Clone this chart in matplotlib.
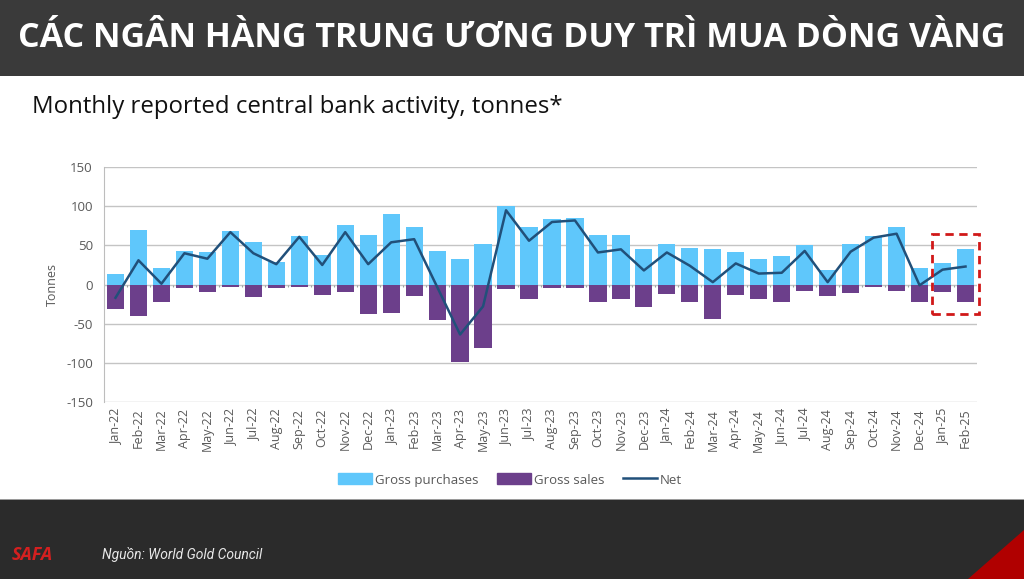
import numpy as np
import matplotlib
matplotlib.use("Agg")
import matplotlib.pyplot as plt
from matplotlib.patches import Rectangle, Polygon
from matplotlib.lines import Line2D

plt.rcParams["axes.unicode_minus"] = False

months = ["Jan-22","Feb-22","Mar-22","Apr-22","May-22","Jun-22","Jul-22","Aug-22","Sep-22","Oct-22","Nov-22","Dec-22",
          "Jan-23","Feb-23","Mar-23","Apr-23","May-23","Jun-23","Jul-23","Aug-23","Sep-23","Oct-23","Nov-23","Dec-23",
          "Jan-24","Feb-24","Mar-24","Apr-24","May-24","Jun-24","Jul-24","Aug-24","Sep-24","Oct-24","Nov-24","Dec-24",
          "Jan-25","Feb-25"]
gross_purchases = [14, 70, 21, 43, 41, 69, 55, 29, 62, 38, 76, 63,
                   90, 74, 43, 33, 52, 101, 74, 84, 85, 63, 63, 45,
                   52, 47, 46, 41, 32, 37, 50, 18, 52, 62, 74, 21,
                   28, 45]
gross_sales = [-31, -40, -22, -4, -9, -3, -16, -5, -3, -14, -9, -38,
               -37, -15, -46, -99, -81, -6, -19, -5, -4, -23, -18, -29,
               -12, -22, -44, -14, -19, -23, -8, -15, -11, -3, -8, -23,
               -10, -22]
net = [-17, 31, 1, 40, 33, 67, 40, 26, 61, 25, 67, 26,
       54, 58, -3, -64, -28, 95, 56, 80, 82, 41, 45, 18,
       41, 24, 3, 27, 14, 15, 43, 3, 42, 60, 65, -1,
       19, 23]
y_ticks = [150, 100, 50, 0, -50, -100, -150]

C_BUY = "#5FC7FB"
C_SELL = "#6C3F8B"
C_NET = "#21507A"
C_TXT = "#595959"
FONT = "Open Sans"

fig = plt.figure(figsize=(10.24, 5.79), dpi=100)
fig.patch.set_facecolor("white")

# header band
fig.patches.append(Rectangle((0, 1 - 76/579), 1, 76/579, transform=fig.transFigure,
                             facecolor="#3A3A3A", edgecolor="none", zorder=0))
fig.text(0.5, 1 - 38/579, "CÁC NGÂN HÀNG TRUNG ƯƠNG DUY TRÌ MUA DÒNG VÀNG",
         ha="center", va="center", color="white", fontsize=24.5, fontweight="bold",
         family=[FONT, "DejaVu Sans"])
# footer band
fig.patches.append(Rectangle((0, 0), 1, 79/579, transform=fig.transFigure,
                             facecolor="#2B2B2B", edgecolor="none", zorder=0))
fig.patches.append(Rectangle((0, 79/579), 1, 1.5/579, transform=fig.transFigure,
                             facecolor="#9A9A9A", edgecolor="none", zorder=0))
fig.patches.append(Polygon([(968/1024, 0), (1, 0), (1, 49/579)], closed=True,
                           transform=fig.transFigure, facecolor="#B00000",
                           edgecolor="none", zorder=1))
fig.text(12/1024, 1 - 555/579, "SAFA", ha="left", va="center", color="#D42020",
         fontsize=13, fontweight="bold", fontstyle="italic", family=[FONT, "DejaVu Sans"])
fig.text(102/1024, 1 - 555/579, "Nguồn: World Gold Council", ha="left", va="center",
         color="#E8E8E8", fontsize=10, fontstyle="italic", family=["Roboto", "DejaVu Sans"])

fig.text(32/1024, 1 - 107/579, "Monthly reported central bank activity, tonnes*",
         ha="left", va="center", color="#111111", fontsize=17.3, family=[FONT, "DejaVu Sans"])

ax = fig.add_axes([104/1024, 1 - 401.7/579, 873/1024, (401.7 - 167.3)/579])
x = np.arange(len(months))
ax.bar(x, gross_purchases, width=0.75, color=C_BUY, zorder=2, label="Gross purchases")
ax.bar(x, gross_sales, width=0.75, color=C_SELL, zorder=2, label="Gross sales")
ax.plot(x, net, color=C_NET, lw=1.8, zorder=3, label="Net")

ax.set_xlim(-0.5, len(months) - 0.5)
ax.set_ylim(-150, 150)
ax.set_yticks(y_ticks)
ax.yaxis.grid(True, color="#C4C4C4", lw=1.0, zorder=0)
ax.set_axisbelow(True)
for s in ["top", "right", "bottom"]:
    ax.spines[s].set_visible(False)
ax.spines["left"].set_color("#BDBDBD")
ax.tick_params(axis="y", length=0, labelsize=9.5, labelcolor=C_TXT, pad=8)
ax.set_xticks(x)
ax.set_xticklabels(months, rotation=90, fontsize=9, color=C_TXT, family=[FONT, "DejaVu Sans"])
ax.tick_params(axis="x", length=0, pad=5)
for lab in ax.get_yticklabels():
    lab.set_family([FONT, "DejaVu Sans"])
ax.set_ylabel("Tonnes", fontsize=9, color=C_TXT, family=[FONT, "DejaVu Sans"], labelpad=5)
# small category ticks along zero line
ax.vlines(x[:-1] + 0.5, -3, 0, color="#A0A0A0", lw=0.8, zorder=1)

# dashed highlight box around last two months
ax.add_patch(Rectangle((len(months) - 2.47, -37.6), 2.07, 102.2, fill=False,
                       edgecolor="#D01818", lw=2, ls=(0, (3, 2)), clip_on=False, zorder=4))

handles = [Rectangle((0, 0), 1, 1, color=C_BUY), Rectangle((0, 0), 1, 1, color=C_SELL),
           Line2D([0], [0], color=C_NET, lw=1.8)]
leg = fig.legend(handles, ["Gross purchases", "Gross sales", "Net"], loc="center",
                 bbox_to_anchor=(510/1024, 1 - 480/579), ncol=3, frameon=False,
                 handlelength=2.6, handleheight=0.9, handletextpad=0.2,
                 columnspacing=1.4, prop={"family": FONT, "size": 9.5})
for t in leg.get_texts():
    t.set_color(C_TXT)

fig.savefig("out.png", dpi=100)
